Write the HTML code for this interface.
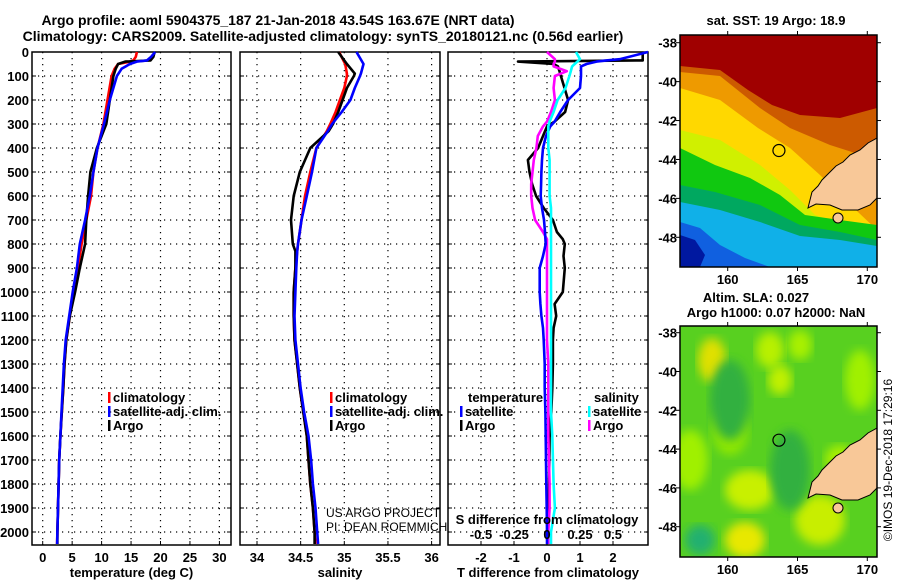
<!DOCTYPE html>
<html><head><meta charset="utf-8">
<style>
body{margin:0;background:#fff;width:900px;height:580px;overflow:hidden}
svg text{font-family:"Liberation Sans",sans-serif;fill:#000}
</style></head>
<body>
<svg id="chart" width="900" height="580" viewBox="0 0 900 580" xmlns="http://www.w3.org/2000/svg">
<rect width="900" height="580" fill="#fff"/>
<text x="278" y="25" text-anchor="middle" style="font-size:14px;font-weight:bold">Argo profile: aoml 5904375_187 21-Jan-2018 43.54S 163.67E (NRT data)</text>
<text x="323" y="41" text-anchor="middle" style="font-size:14px;font-weight:bold">Climatology: CARS2009. Satellite-adjusted climatology: synTS_20180121.nc (0.56d earlier)</text>
<g id="g"></g>
</svg>
<script>
// ---- data ----
const tDepth = [0,20,35,40,50,70,100,200,300,400,500,600,700,800,900,1000,1100,1200,1300,1400,1500,1600,1700,1800,1900,2000,2050];
const tClim  = [16,15.8,15.4,14.8,12.8,12.2,11.7,11,10.3,9.3,8.6,8.2,7.4,6.6,6,5.3,4.6,4.0,3.7,3.5,3.25,3.0,2.8,2.7,2.6,2.5,2.45];
const tSat   = [19.1,18.4,17.7,16,14.8,13.4,12.6,11.4,10.4,9.3,8.6,8.0,7.2,6.3,5.8,5.1,4.5,3.9,3.6,3.4,3.2,3.0,2.8,2.7,2.6,2.5,2.45];
const tArgo  = [19,18.8,18.3,14,12.8,12.4,12,11.4,10.8,9.2,8.1,7.7,7.4,7.2,6.3,5.5,4.6,4.0,3.7,3.5,3.25,3.0,2.8,2.7,2.6,2.5,2.5];
const sDepth = [0,50,90,100,150,200,250,300,330,400,500,600,700,800,830,900,1000,1100,1200,1300,1400,1500,1600,1700,1800,1900,2000,2050];
const sClim  = [34.94,35.01,35.03,35.03,35.0,34.95,34.9,34.84,34.8,34.68,34.61,34.55,34.51,34.47,34.46,34.44,34.42,34.42,34.43,34.46,34.49,34.53,34.57,34.59,34.61,34.64,34.66,34.67];
const sSat   = [35.14,35.22,35.19,35.18,35.12,35.07,34.97,34.86,34.81,34.68,34.63,34.57,34.51,34.47,34.46,34.45,34.44,34.43,34.44,34.47,34.5,34.54,34.59,34.62,34.64,34.67,34.69,34.7];
const sArgo  = [34.93,35.03,35.12,35.11,35.03,34.98,34.93,34.87,34.82,34.61,34.49,34.42,34.39,34.41,34.44,34.44,34.42,34.42,34.43,34.46,34.49,34.53,34.57,34.59,34.61,34.64,34.66,34.66];
const dDepth = [0,30,35,40,50,60,80,100,150,200,250,290,310,350,400,450,500,550,600,650,700,750,780,800,850,900,1000,1050,1100,1150,1200,1300,1400,1500,1600,1800,1900,2000,2050];
const dTsat  = [3.06,2.2,1.8,1.5,1.2,1.03,1.03,1.03,1.0,0.64,0.4,0.23,0.1,-0.03,-0.12,-0.15,-0.17,-0.18,-0.19,-0.15,-0.09,-0.06,-0.05,-0.04,-0.12,-0.22,-0.22,-0.2,-0.17,-0.12,-0.1,-0.07,-0.07,-0.05,-0.04,-0.02,-0.01,0,0];
const dTargo = [2.9,2.9,2.9,-0.88,0.2,0.33,0.38,0.42,0.53,0.64,0.55,0.23,0,-0.12,-0.27,-0.58,-0.53,-0.45,-0.33,-0.1,0.18,0.3,0.48,0.54,0.5,0.54,0.48,0.23,0.28,0.2,0.18,0.18,0.16,0.13,0.08,0.06,0.05,0.03,0.03];
const dSsat  = [0.22,0.25,0.24,0.23,0.21,0.19,0.18,0.17,0.14,0.08,0.05,0.02,0.01,0.01,0.01,0.02,0.02,0.02,0.02,0.03,0.03,0.03,0.03,0.03,0.03,0.03,0.03,0.03,0.03,0.03,0.03,0.03,0.03,0.03,0.04,0.05,0.06,0.03,0.03];
const dSargo = [0,0.06,0.06,0.06,0.05,0.05,0.15,0.06,0.05,0.06,0.03,0.0,-0.03,-0.07,-0.08,-0.1,-0.11,-0.12,-0.12,-0.11,-0.09,-0.03,0.0,0.0,0.0,0.0,0.0,0.0,0.0,0.0,0.0,0.01,0.01,0.01,0.01,0.02,0.02,0.01,0.01];
const tTicks = [0,5,10,15,20,25,30];
const sTicks = [34,34.5,35,35.5,36];
const sTickLabels = ["34","34.5","35","35.5","36"];
const dTTicks = [-2,-1,0,1,2];
const dSTicks = [-0.5,-0.25,0,0.25,0.5];
const dSTickLabels = ["-0.5","-0.25","0","0.25","0.5"];
const depthTicks = [0,100,200,300,400,500,600,700,800,900,1000,1100,1200,1300,1400,1500,1600,1700,1800,1900,2000];
const lonTicks = [160,165,170];
const latTicks = [-38,-40,-42,-44,-46,-48];
const argoLon = [163.67];
const argoLat = [-43.54];

// ---- scales ----
const NS="http://www.w3.org/2000/svg";
const G=document.getElementById('g');
const Y0=52, Y1=545;
const yD=d=>52+d*0.24;
const xT=t=>42.7+5.89*t;
const xS=s=>257+87.3*(s-34);
const xDT=t=>547+33*t;
const xDS=s=>547+132*s;
const mapX=lon=>727.7+13.96*(lon-160);
const mapY1=lat=>42.7+19.46*(-38-lat);
const mapY2=lat=>332.7+19.4*(-38-lat);
const BOLD='font-size:13px;font-weight:bold';
function el(tag,attrs,parent){const e=document.createElementNS(NS,tag);for(const k in attrs)e.setAttribute(k,attrs[k]);(parent||G).appendChild(e);return e;}
function txt(s,x,y,a,style){const t=el('text',{x:x,y:y,'text-anchor':a||'start',style:style||BOLD});t.textContent=s;return t;}

function panel(x0,x1,name,xticks,xf,xlabels,xtitle,showDepth){
  const gp=el('g',{});
  
  
  depthTicks.forEach(d=>{
    if(d>0) el('line',{x1:x0,x2:x1,y1:yD(d),y2:yD(d),stroke:'#000','stroke-width':1.2,'stroke-dasharray':'1.2,4.8'},gp);
    el('line',{x1:x0,x2:x0+4,y1:yD(d),y2:yD(d),stroke:'#000'},gp);
    el('line',{x1:x1-4,x2:x1,y1:yD(d),y2:yD(d),stroke:'#000'},gp);
    if(showDepth){const t=txt(String(d),29,yD(d)+5,'end');
      
      }
  });
  xticks.forEach((v,i)=>{
    const x=xf(v);
    el('line',{x1:x,x2:x,y1:Y0,y2:Y1,stroke:'#000','stroke-width':1.2,'stroke-dasharray':'1.2,4.8'},gp);
    el('line',{x1:x,x2:x,y1:Y1-4,y2:Y1,stroke:'#000'},gp);
    if(xlabels){const t=txt(xlabels[i],x,562,'middle');
      
      }
  });
  el('rect',{x:x0,y:Y0,width:x1-x0,height:Y1-Y0,fill:'none',stroke:'#000','stroke-width':1.5},gp);
  const t=txt(xtitle,(x0+x1)/2,577,'middle');
  
  
}
function line(depths,vals,xf,color,name){
  const pts=depths.map((d,i)=>xf(vals[i]).toFixed(1)+','+yD(d).toFixed(1)).join(' ');
  const p=el('polyline',{points:pts,fill:'none',stroke:color,'stroke-width':2.6,'stroke-linejoin':'round'});
  
  
}
function legend(x,y,color,label,name){
  el('rect',{x:x,y:y-10,width:2.5,height:11,fill:color});
  const t=txt(label,x+5,y);
  
  
}

// panel 1
panel(32,231,'temperature-panel',tTicks,xT,tTicks.map(String),'temperature (deg C)',true);
line(tDepth,tClim,xT,'#ff0000','temp-climatology-line');
line(tDepth,tArgo,xT,'#000000','temp-argo-line');
line(tDepth,tSat,xT,'#0000ff','temp-satellite-line');
legend(108,402,'#f00','climatology','legend-climatology');
legend(108,416,'#00f','satellite-adj. clim.','legend-satellite');
legend(108,430,'#000','Argo','legend-argo');

// panel 2
panel(240,440,'salinity-panel',sTicks,xS,sTickLabels,'salinity',false);
line(sDepth,sClim,xS,'#ff0000','sal-climatology-line');
line(sDepth,sArgo,xS,'#000000','sal-argo-line');
line(sDepth,sSat,xS,'#0000ff','sal-satellite-line');
legend(330,402,'#f00','climatology','legend-climatology-2');
legend(330,416,'#00f','satellite-adj. clim.','legend-satellite-2');
legend(330,430,'#000','Argo','legend-argo-2');
txt('US ARGO PROJECT',326,517,'start','font-size:12px;font-weight:normal');
txt('PI: DEAN ROEMMICH',326,531,'start','font-size:12px;font-weight:normal');

// panel 3
panel(448,648,'difference-panel',dTTicks,xDT,dTTicks.map(String),'T difference from climatology',false);
line(dDepth,dTargo,xDT,'#000000','tdiff-argo-line');
line(dDepth,dSargo,xDS,'#ff00ff','sdiff-argo-line');
line(dDepth,dTsat,xDT,'#0000ff','tdiff-satellite-line');
line(dDepth,dSsat,xDS,'#00ffff','sdiff-satellite-line');
txt('S difference from climatology',547,524,'middle');
dSTicks.forEach((v,i)=>{const t=txt(dSTickLabels[i],xDS(v),539,'middle');
  
  });
txt('temperature',468,402);
legend(460,416,'#00f','satellite','legend-t-satellite');
legend(460,430,'#000','Argo','legend-t-argo');
txt('salinity',594,402);
legend(588,416,'#0ff','satellite','legend-s-satellite');
legend(588,430,'#f0f','Argo','legend-s-argo');

// maps
function mapFrame(y0,y1,mapY,name){
  const gp=el('g',{});
  
  
  el('rect',{x:680,y:y0,width:197,height:y1-y0,fill:'none',stroke:'#000','stroke-width':1.5},gp);
  lonTicks.forEach(l=>{const x=mapX(l);
    el('line',{x1:x,x2:x,y1:y0-4,y2:y0,stroke:'#000'},gp);
    el('line',{x1:x,x2:x,y1:y1,y2:y1+4,stroke:'#000'},gp);
    txt(String(l),x,y1+17,'middle');});
  latTicks.forEach(l=>{const y=mapY(l);
    el('line',{x1:676,x2:680,y1:y,y2:y,stroke:'#000'},gp);
    el('line',{x1:877,x2:881,y1:y,y2:y,stroke:'#000'},gp);
    txt(String(l),677,y+5,'end');});
}
const land1="877,138 868,143 860,150 850,155 843,162 836,166 830,172 822,180 818,186 812,192 810,200 808,208 816,204 830,205 842,210 858,210 870,205 877,198";
function drawMap(y0,y1,bands,blobs,mapY,dy,id,name){
  const c=el('clipPath',{id:id});el('rect',{x:680,y:y0,width:197,height:y1-y0},c);
  const g=el('g',{'clip-path':'url(#'+id+')'});
  
  
  bands.forEach(b=>el('polygon',{points:b[0],fill:b[1]},g));
  blobs.forEach(b=>el('ellipse',{cx:b[0],cy:b[1],rx:b[2],ry:b[3],fill:b[4],filter:'url(#blur)'},g));
  el('polygon',{points:land1,fill:'#f8c898',stroke:'#000','stroke-width':1,transform:'translate(0,'+dy+')'},g);
  el('ellipse',{cx:838,cy:218+dy,rx:5,ry:5,fill:'#f8c898',stroke:'#000'},g);
  const m=el('circle',{cx:mapX(argoLon[0]),cy:mapY(argoLat[0]),r:6,fill:'none',stroke:'#000','stroke-width':1.2},g);
  
  
}
const defs=el('defs',{});const f=el('filter',{id:'blur'},defs);el('feGaussianBlur',{stdDeviation:5},f);
const B='877,280 680,280';
drawMap(35,267,[
 ['680,30 877,30 877,280 680,280','#a00000'],
 ['680,66 720,70 748,90 772,105 800,115 840,118 877,108,'+B,'#cc5a00'],
 ['680,72 720,76 760,108 790,128 830,145 877,160,'+B,'#ee9a00'],
 ['680,88 720,100 758,128 790,148 820,175 840,195 877,230,'+B,'#ffd800'],
 ['680,130 720,140 760,165 790,190 815,215 877,235,'+B,'#d0f000'],
 ['680,148 715,165 750,178 780,195 805,215 840,220 877,225,'+B,'#10c810'],
 ['680,185 715,192 760,205 800,225 840,232 877,240,'+B,'#00a860'],
 ['680,202 720,210 760,222 800,236 840,240 877,246,'+B,'#10b0e8'],
 ['680,222 700,228 720,245 745,258 770,267,'+B,'#1060e0'],
 ['680,235 695,240 705,255 700,267 680,267','#0018a0']
],[],mapY1,0,'m1','sst-map');
mapFrame(35,267,mapY1,'sst-map-frame');
txt('sat. SST: 19 Argo: 18.9',776,25,'middle');

drawMap(326,557,[
 ['680,320 877,320 877,560 680,560','#58d020']
],[
 [712,360,14,22,'#e0e000'],[770,350,14,18,'#b8f000'],[800,345,12,15,'#a8f000'],[730,430,18,25,'#90e800'],
 [690,460,18,30,'#a0f000'],[750,490,25,20,'#c8f000'],[745,540,20,18,'#e8e800'],[820,520,25,25,'#c8ee00'],
 [730,400,20,40,'#30b040'],[790,470,20,40,'#30b040'],[860,380,15,30,'#a0f000'],[700,540,15,15,'#20b070'],
 [780,380,12,15,'#c0f000'],[840,460,15,15,'#a8f000']
],mapY2,290,'m2','sla-map');
mapFrame(326,557,mapY2,'sla-map-frame');
txt('Altim. SLA: 0.027',756,302,'middle');
txt('Argo h1000: 0.07 h2000: NaN',776,317,'middle');
const cr=el('text',{x:0,y:0,'text-anchor':'middle',style:'font-size:12px;font-weight:normal',transform:'translate(892,460) rotate(-90)'});
cr.textContent='©IMOS 19-Dec-2018 17:29:16';


</script>
</body></html>
